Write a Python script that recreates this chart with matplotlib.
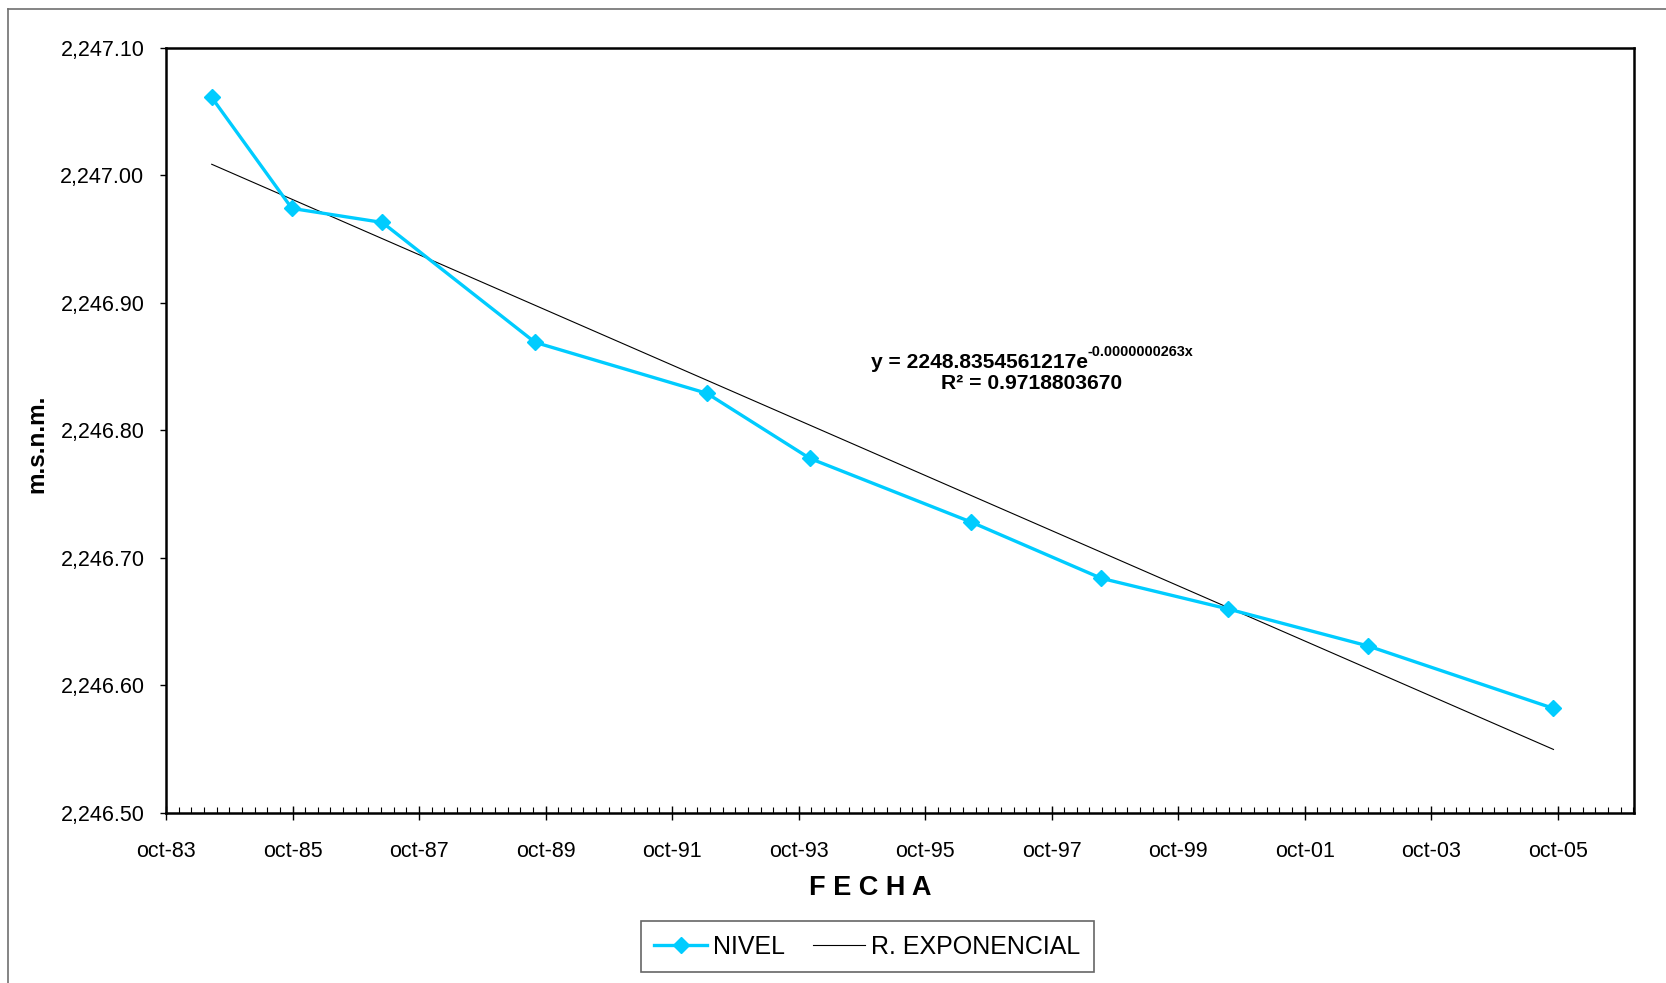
import numpy as np
import pandas as pd
import matplotlib
matplotlib.use('Agg')
import matplotlib.pyplot as plt
import matplotlib.dates as mdates
import matplotlib.ticker as mticker
from matplotlib.lines import Line2D

plt.rcParams['font.family'] = ['Liberation Sans', 'DejaVu Sans']

# datos
fechas = ['1984-06-21', '1985-09-27', '1987-03-03', '1989-08-01', '1992-04-20',
          '1993-12-05', '1996-06-25', '1998-07-15', '2000-07-15', '2002-10-01',
          '2005-09-07']
nivel = [2247.061, 2246.974, 2246.963, 2246.869, 2246.829,
         2246.778, 2246.728, 2246.684, 2246.660, 2246.631,
         2246.582]
anios_ticks = list(range(1983, 2006, 2))
ecuacion = 'y = 2248.8354561217e'
exponente = '-0.0000000263x'
r2_texto = 'R\u00b2 = 0.9718803670'

x = mdates.date2num(pd.to_datetime(fechas))
y = np.array(nivel)

# regresion exponencial (como Excel: ln(y) vs fecha serial)
serial = x + 25569.0
b, ln_a = np.polyfit(serial, np.log(y), 1)
y_fit = np.exp(ln_a) * np.exp(b * serial)

fig = plt.figure(figsize=(16.66, 9.83), dpi=100)
W, H = 1666, 983
ax = fig.add_axes([166 / W, 1 - 813 / H, (1634 - 166) / W, (813 - 47.7) / H])

ax.plot(x, y, color='#00CCFF', lw=2.4, marker='D', ms=8.5,
        mec='#00CCFF', mfc='#00CCFF', label='NIVEL', zorder=3)
ax.plot(x, y_fit, color='black', lw=0.8, label='R. EXPONENCIAL', zorder=2)

xmin = mdates.date2num(pd.Timestamp('1983-10-01'))
xmax = mdates.date2num(pd.Timestamp('2006-12-16'))
ax.set_xlim(xmin, xmax)
ax.set_ylim(2246.50, 2247.10)

major = mdates.date2num(pd.to_datetime([f'{a}-10-01' for a in anios_ticks]))
ax.xaxis.set_major_locator(mticker.FixedLocator(major))
ax.xaxis.set_minor_locator(mticker.FixedLocator(np.arange(xmin, xmax, 73.05)))
ax.set_xticklabels([f'oct-{a % 100:02d}' for a in anios_ticks])
ax.yaxis.set_major_locator(mticker.MultipleLocator(0.1))
ax.yaxis.set_major_formatter(mticker.FuncFormatter(lambda v, p: f'{v:,.2f}'))

ax.tick_params(axis='x', which='major', direction='inout', length=10, width=1,
               labelsize=15.5, pad=15.5)
ax.tick_params(axis='x', which='minor', direction='in', length=4, width=0.8)
ax.tick_params(axis='y', which='major', direction='out', length=4.5, width=1,
               labelsize=15.5, pad=11)
for s in ax.spines.values():
    s.set_linewidth(1.8)

ax.set_xlabel('F E C H A', fontsize=19.5, fontweight='bold', va='center')
ax.xaxis.set_label_coords(0.4796, -0.098)
ax.set_ylabel('m.s.n.m.', fontsize=17.5, fontweight='bold', va='center')
ax.yaxis.set_label_coords(-0.088, 0.482)

leg = ax.legend(loc='center', bbox_to_anchor=(867.5 / W, 1 - 946.5 / H),
                bbox_transform=fig.transFigure, ncol=2, fontsize=18,
                frameon=True, fancybox=False, handlelength=2.1,
                handletextpad=0.25, columnspacing=1.1, borderpad=0.55,
                markerscale=1.0)
leg.get_frame().set_edgecolor('#404040')
leg.get_frame().set_linewidth(1.2)

# ecuacion de la linea de tendencia
fig.text(1088 / W, 1 - 368.3 / H, ecuacion, ha='right', va='baseline',
         fontsize=15.1, fontweight='bold')
fig.text(1088 / W, 1 - 356.5 / H, exponente, ha='left', va='baseline',
         fontsize=10.4, fontweight='bold')
fig.text(1032 / W, 1 - 389.3 / H, r2_texto, ha='center', va='baseline',
         fontsize=15.2, fontweight='bold')

# borde del area del grafico
fig.add_artist(Line2D([8 / W, 8 / W], [0, 1 - 9 / H], transform=fig.transFigure,
                      color='#707070', lw=1.2))
fig.add_artist(Line2D([8 / W, 1], [1 - 9 / H, 1 - 9 / H], transform=fig.transFigure,
                      color='#707070', lw=1.2))

fig.savefig('out.png', dpi=100)
